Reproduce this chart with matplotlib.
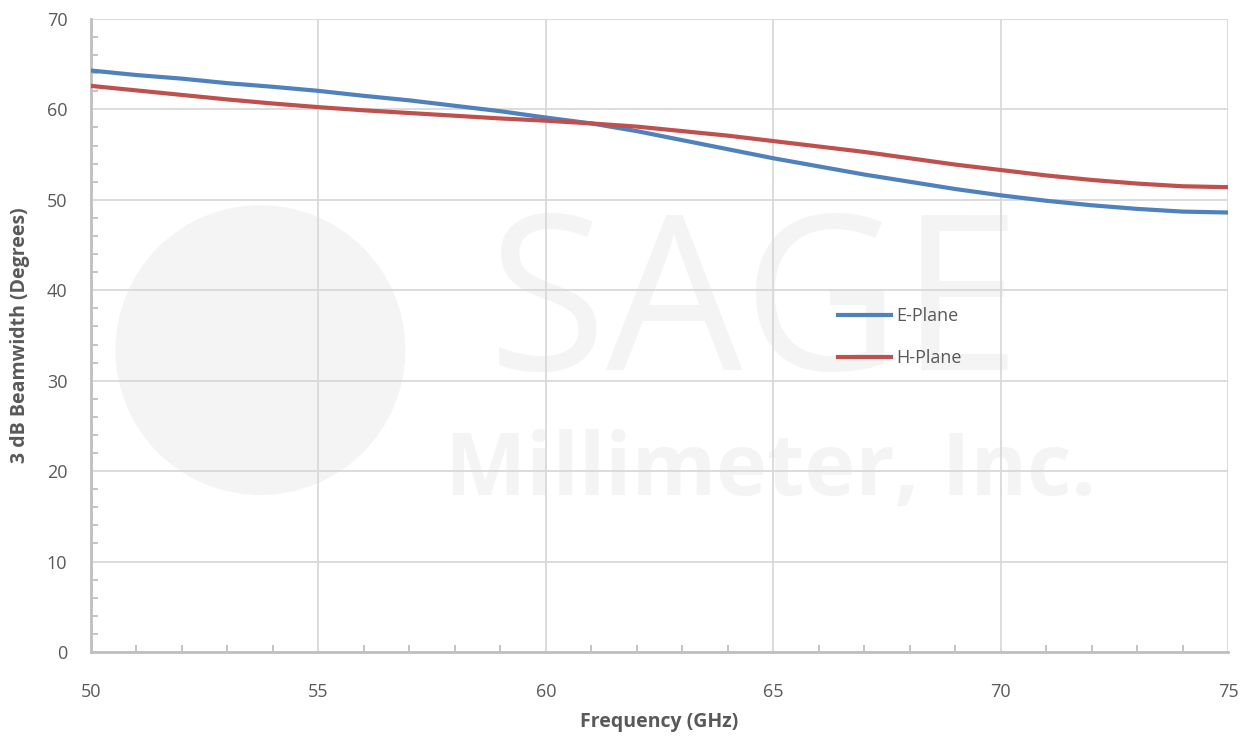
import matplotlib
matplotlib.use("Agg")
import matplotlib.pyplot as plt
from matplotlib.patches import Ellipse
from matplotlib.ticker import MultipleLocator

# Frequency points (GHz) and beamwidths
freq = [50, 51, 52, 53, 54, 55, 56, 57, 58, 59, 60, 61, 62,
        63, 64, 65, 66, 67, 68, 69, 70, 71, 72, 73, 74, 75]
e_plane = [64.3, 63.8, 63.4, 62.9, 62.5, 62.05, 61.5, 61.0, 60.4, 59.8, 59.1, 58.45, 57.6,
           56.6, 55.6, 54.6, 53.7, 52.8, 52.0, 51.2, 50.5, 49.9, 49.4, 49.0, 48.7, 48.6]
h_plane = [62.6, 62.1, 61.6, 61.1, 60.65, 60.25, 59.9, 59.6, 59.3, 59.0, 58.75, 58.45, 58.1,
           57.6, 57.1, 56.5, 55.9, 55.3, 54.6, 53.9, 53.3, 52.7, 52.2, 51.8, 51.5, 51.4]

TEXT = "#595959"
AXIS = "#bfbfbf"
GRID = "#d9d9d9"
MARK = "#f4f4f4"

plt.rcParams["font.family"] = ["Open Sans", "DejaVu Sans"]

fig = plt.figure(figsize=(12.5, 7.38), dpi=100)
ax = fig.add_axes([0.0728, 0.1165, 0.9096, 0.8578])

# faint company watermark behind the data
ax.add_patch(Ellipse((0.149, 0.477), 0.255, 0.458, transform=ax.transAxes,
                     color=MARK, zorder=0, lw=0))
ax.text(0.584, 0.575, "SAGE", transform=ax.transAxes, fontsize=156,
        color=MARK, ha="center", va="center_baseline", zorder=0)
ax.text(0.598, 0.300, "Millimeter, Inc.", transform=ax.transAxes, fontsize=62,
        color=MARK, ha="center", va="center_baseline", fontweight="bold", zorder=0)

ax.plot(freq, e_plane, color="#4f81bd", lw=3, label="E-Plane", zorder=3)
ax.plot(freq, h_plane, color="#c0504d", lw=3, label="H-Plane", zorder=3)

ax.set_xlim(50, 75)
ax.set_ylim(0, 70)
ax.xaxis.set_major_locator(MultipleLocator(5))
ax.xaxis.set_minor_locator(MultipleLocator(1))
ax.yaxis.set_major_locator(MultipleLocator(10))
ax.yaxis.set_minor_locator(MultipleLocator(2))

ax.grid(True, which="major", color=GRID, lw=1.3, zorder=1)
ax.set_axisbelow(True)

for side in ("top", "right"):
    ax.spines[side].set_visible(False)
for side in ("left", "bottom"):
    ax.spines[side].set_color(AXIS)
    ax.spines[side].set_linewidth(2)

ax.tick_params(which="major", length=0, labelsize=13, labelcolor=TEXT)
ax.tick_params(axis="x", which="major", pad=22)
ax.tick_params(axis="y", which="major", pad=17)
ax.tick_params(which="minor", direction="in", length=5, width=1.3, color=AXIS)

ax.set_xlabel("Frequency (GHz)", fontsize=14, fontweight="bold", color=TEXT, labelpad=8)
ax.set_ylabel("3 dB Beamwidth (Degrees)", fontsize=14, fontweight="bold", color=TEXT, labelpad=12)

leg = ax.legend(loc="upper left", bbox_to_anchor=(0.643, 0.57), frameon=False,
                fontsize=13, labelcolor=TEXT, handlelength=2.9, handletextpad=0.3,
                labelspacing=1.3)

fig.savefig("out.png", dpi=100)
